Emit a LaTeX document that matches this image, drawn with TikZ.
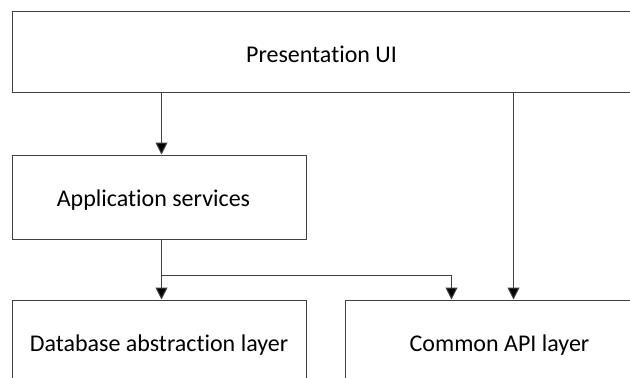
\documentclass[tikz,border=0pt]{standalone}
\usepackage{fontspec}
\setmainfont{Carlito}[Ligatures=NoCommon]
\usetikzlibrary{arrows.meta}

\begin{document}
\begin{tikzpicture}[x=1pt, y=-1pt,
    layer/.style={draw=black!75, line width=1pt, inner sep=0pt, text height=15.4pt, text depth=0pt, font=\fontsize{24}{28}\selectfont},
    link/.style={draw=black!75, line width=1pt, -{Triangle[width=12pt,length=12pt,fill=black]}}]
    \useasboundingbox (0,0) rectangle (630,378);
    % layers, right and bottom edges run off the page
    \node[layer, text height=22.4pt, minimum width=619pt, minimum height=81pt] (ui) at (321.5,51.5) {Presentation UI};
    \node[layer, text height=18.8pt, minimum width=294pt, minimum height=84pt] (app) at (159,197) {Application services\hspace*{11pt}};
    \node[layer, minimum width=294pt, minimum height=88pt] (db) at (159,344) {Database abstraction layer};
    \node[layer, minimum width=309pt, minimum height=88pt] (api) at (499.5,344) {Common API layer};
    % calls between layers
    \draw[link] ([xshift=2.5pt]app.north |- ui.south) -- ([xshift=2.5pt]app.north);
    \draw[link] ([xshift=2.5pt]app.south) -- ([xshift=2.5pt]db.north);
    \coordinate (fork) at ([xshift=2.5pt,yshift=-36pt]app.south);
    \draw[link] (fork) -| ([xshift=-48pt]api.north);
    \draw[link] ([xshift=14pt]api.north |- ui.south) -- ([xshift=14pt]api.north);
\end{tikzpicture}
\end{document}
